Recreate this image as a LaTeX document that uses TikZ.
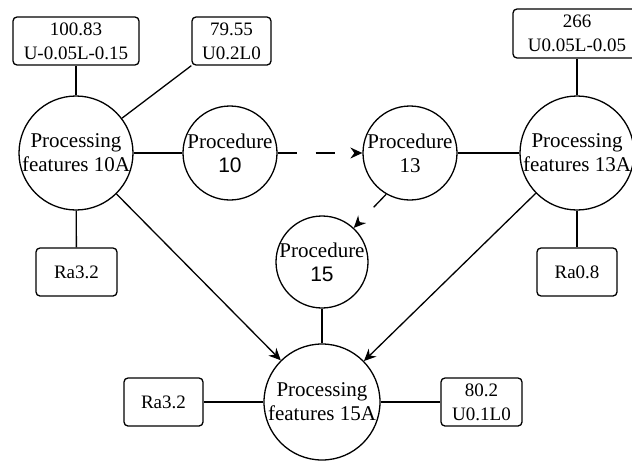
\documentclass[tikz,border=0pt]{standalone}
\usepackage{fontspec}
\setmainfont{Liberation Serif}
\newfontfamily\digitsans{Liberation Sans}
\usetikzlibrary{arrows.meta}
\begin{document}
\begin{tikzpicture}[x=1pt,y=-1pt,
  line width=1.3pt,
  feature/.style={circle,draw,inner sep=-20pt,align=center,
    font=\fontsize{21}{24}\selectfont},
  value/.style={draw,rounded corners=4pt,inner sep=0pt,minimum height=48pt,
    align=center,font=\fontsize{19}{24}\selectfont},
  flow/.style={-{Stealth[length=12pt,width=11pt,inset=4pt]}},
  seqlong/.style={flow,dash pattern=on 19pt off 19pt},
  seqshort/.style={flow,dash pattern=on 18pt off 20pt}]
\useasboundingbox (0,0) rectangle (632,461);
\clip (0,0) rectangle (632,461);

% process steps and feature groups
\node[feature,minimum size=114pt] (f10) at (76,153) {Processing\\features 10A};
\node[feature,minimum size=94pt]  (p10) at (230,153) {Procedure\\{\digitsans 10}};
\node[feature,minimum size=94pt]  (p13) at (410,153) {Procedure\\13};
\node[feature,minimum size=114pt] (f13) at (577,153) {Processing\\features 13A};
\node[feature,minimum size=92pt]  (p15) at (322,262) {Procedure\\{\digitsans 15}};
\node[feature,minimum size=116pt] (f15) at (322,402) {Processing\\features 15A};

% dimensions, tolerances and roughness
\node[value,minimum width=126pt] (v10u) at (76,41)    {100.83\\U-0.05L-0.15};
\node[value,minimum width=79pt]  (v10r) at (231.5,41) {79.55\\U0.2L0};
\node[value,minimum width=128pt,minimum height=49pt] (v13u) at (577,33.5) {266\\U0.05L-0.05};
\node[value,minimum width=81pt]  (r10)  at (76.5,272) {Ra3.2};
\node[value,minimum width=80pt]  (r13)  at (577,272)  {Ra0.8};
\node[value,minimum width=79pt]  (r15)  at (163.5,402) {Ra3.2};
\node[value,minimum width=81pt]  (v15)  at (481.5,402) {80.2\\U0.1L0};

% connectors
\draw (f10) -- (v10u);
\draw (f10) -- (v10r.south west);
\draw (f10) -- (p10);
\draw (f10) -- (r10);
\draw[seqlong] (p10) -- (p13);
\draw (p13) -- (f13);
\draw (f13) -- (v13u);
\draw (f13) -- (r13);
\draw[seqshort] (p13.240) -- (p15.47);
\draw[flow] (f10) -- (f15);
\draw[flow] (f13) -- (f15);
\draw (p15) -- (f15);
\draw (f15) -- (r15);
\draw (f15) -- (v15);
\end{tikzpicture}
\end{document}
